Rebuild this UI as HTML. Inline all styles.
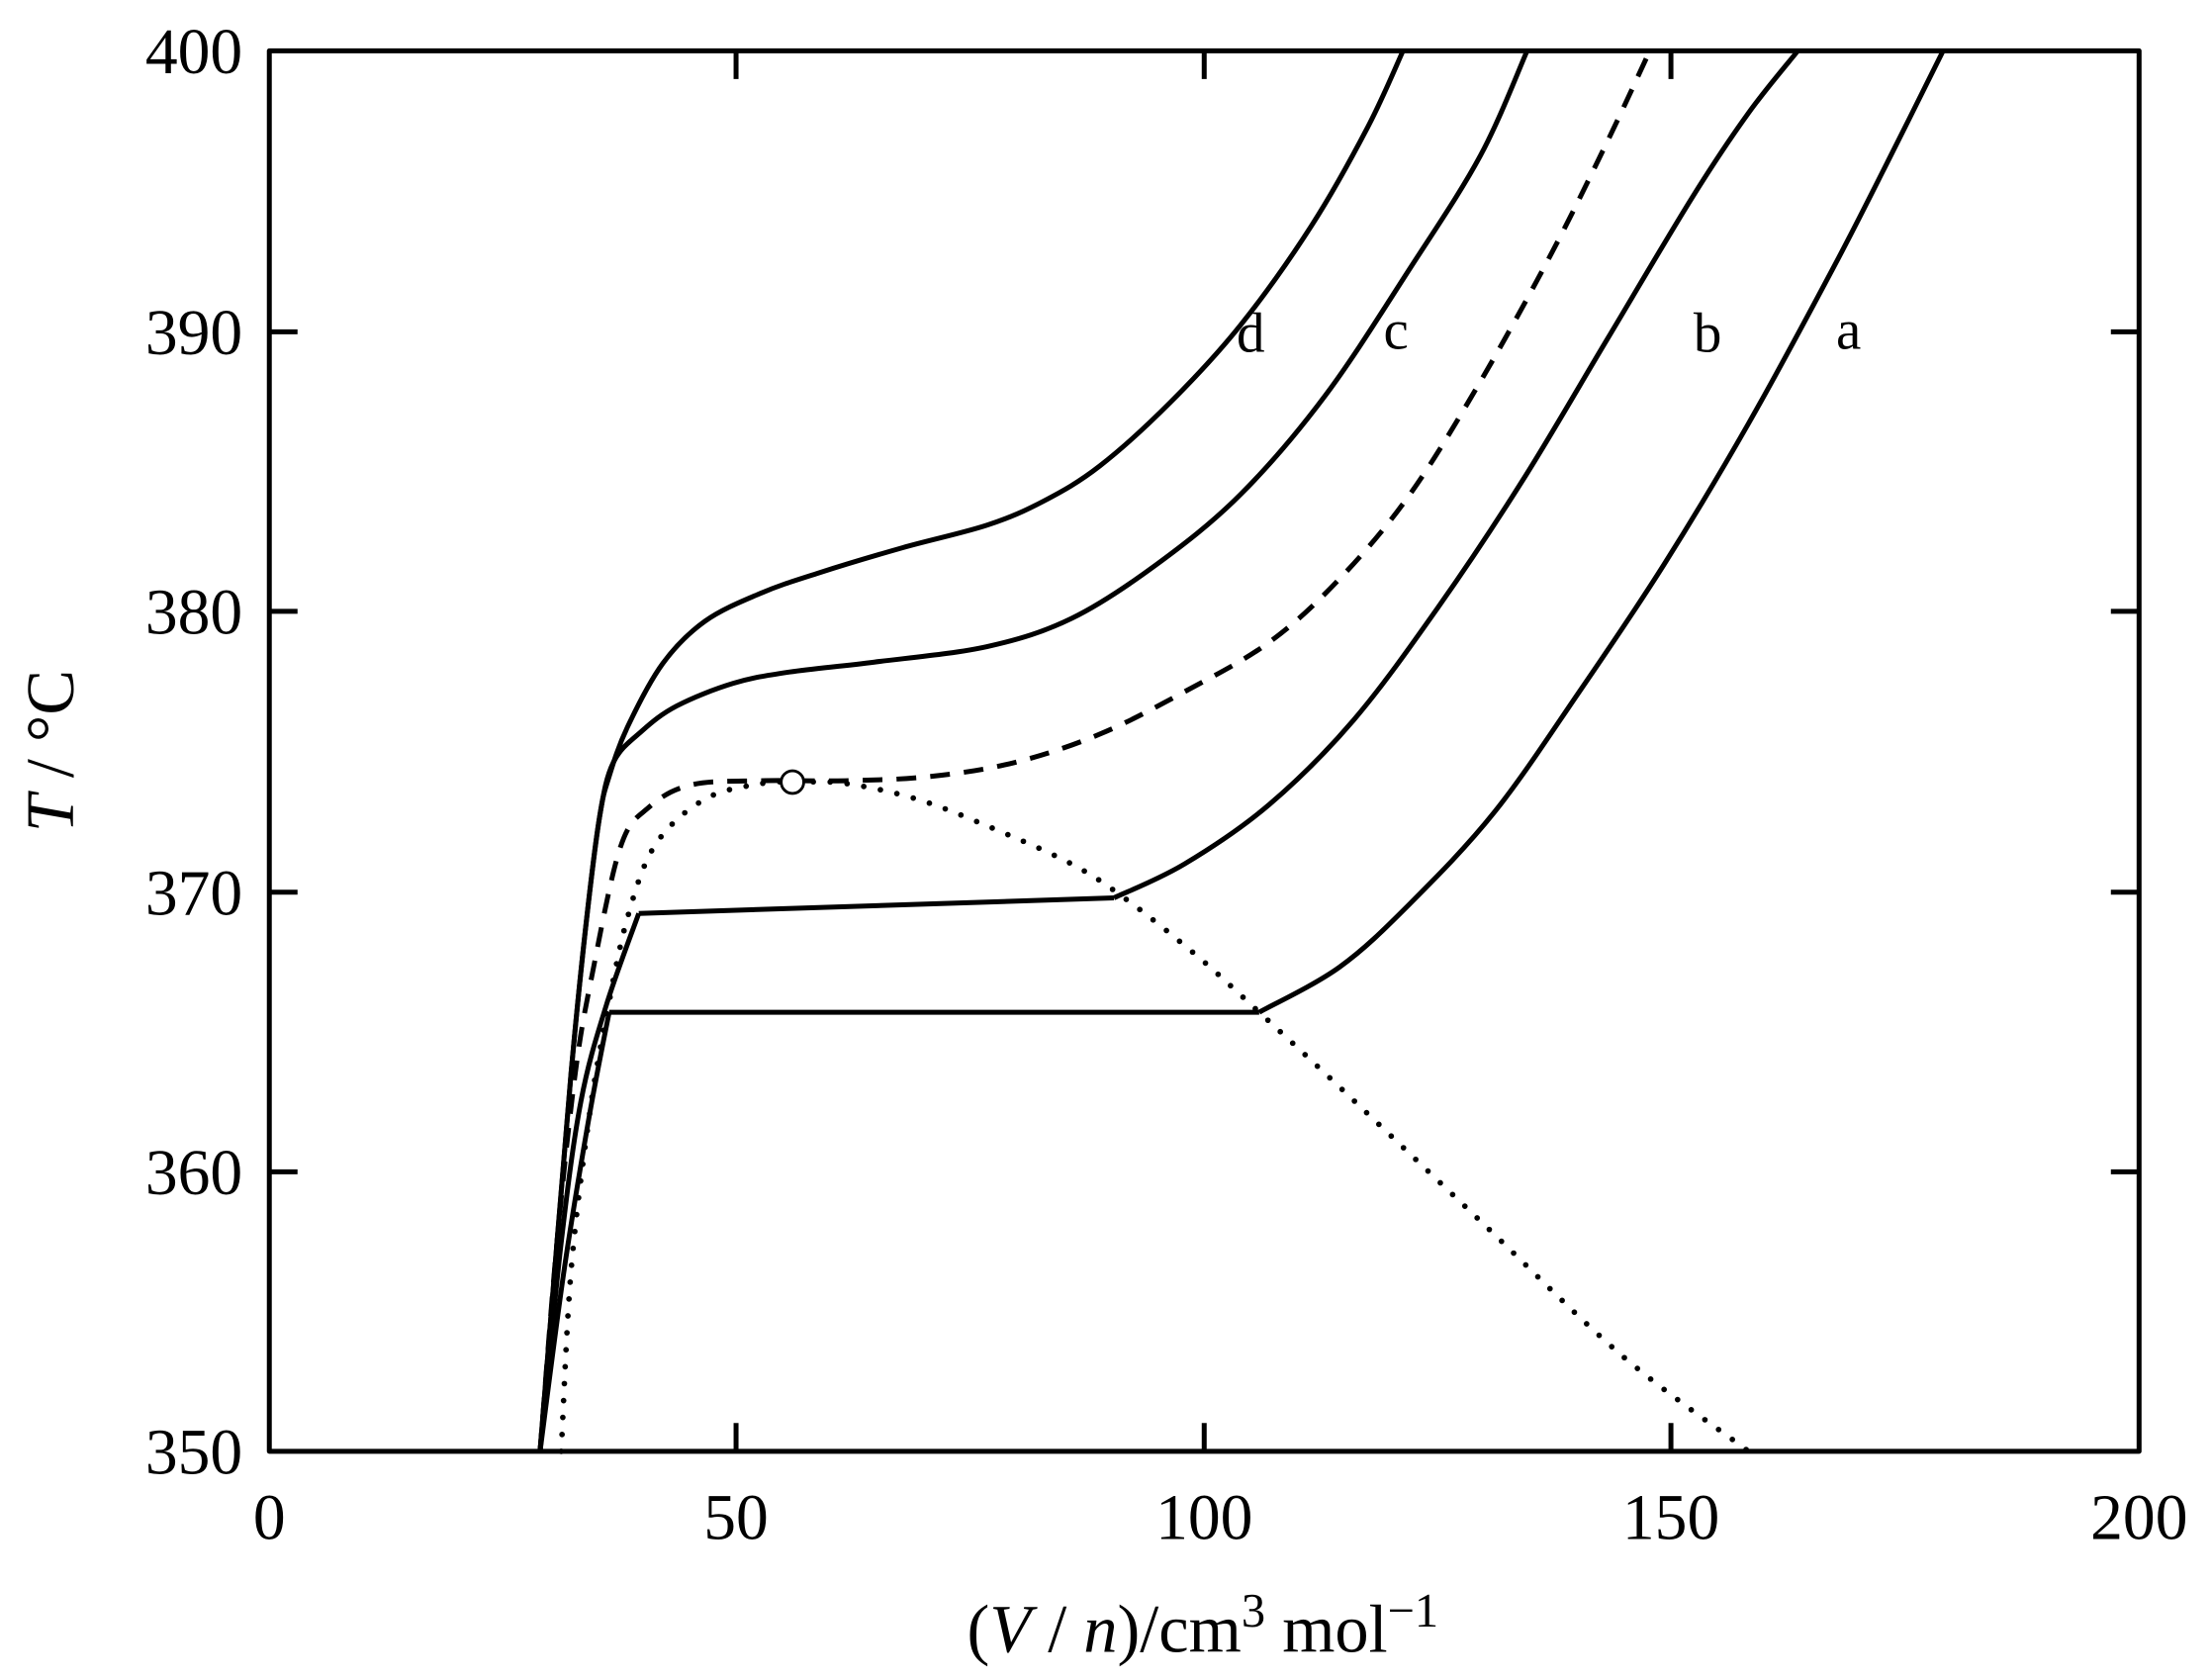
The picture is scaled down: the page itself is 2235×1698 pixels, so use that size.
<!DOCTYPE html>
<html><head><style>html,body{margin:0;padding:0;background:#fff}svg{display:block}</style></head>
<body>
<svg id="s" width="2235" height="1698" viewBox="0 0 1568 1190" preserveAspectRatio="none" xmlns="http://www.w3.org/2000/svg" font-family="Liberation Serif, serif">
<g fill="none" stroke="#000" stroke-width="3.5" stroke-linejoin="round" stroke-linecap="butt">
<rect x="191" y="36" width="1326" height="992"/>
<path d="M522,1028v-20M854,1028v-20M1185,1028v-20M522,36v20M854,36v20M1185,36v20M191,235h20M191,433h20M191,632h20M191,830h20M1517,235h-20M1517,433h-20M1517,632h-20M1517,830h-20"/>
<polyline class="sm" points="383,1028 400,900 418,790 432,717"/>
<polyline points="432,717 893,717"/>
<polyline class="sm" points="893,717 950,685 1000,640 1060,575 1120,490 1180,400 1240,300 1300,190 1340,112 1378,36"/>
<polyline class="sm" points="383,1028 398,880 412,780 430,712 453,647"/>
<polyline points="453,647 790,636"/>
<polyline class="sm" points="790,636 840,612 900,570 960,510 1020,430 1080,340 1140,240 1200,140 1240,80 1275,36"/>
<polyline class="sm" stroke-dasharray="14,10" points="383,1028 395,880 408,760 420,690 440,600 460,572 490,556 540,553 600,553 660,550 720,540 780,520 840,490 900,455 950,410 1000,350 1050,270 1100,180 1140,100 1170,36"/>
<polyline class="sm" points="383,1028 395,880 405,760 415,660 425,580 435,540 455,518 480,500 520,484 560,476 620,469 700,458 760,438 820,400 880,350 940,280 1000,190 1050,110 1083,36"/>
<polyline class="sm" points="383,1028 395,880 405,760 415,660 425,580 432,550 445,515 470,470 500,440 540,420 580,406 640,388 700,372 740,355 780,330 830,285 880,230 930,160 970,90 995,36"/>
<polyline class="sm" stroke-width="4" stroke-linecap="round" stroke-dasharray="0,12" points="398,1028 405,900 418,790 430,720 445,650 465,598 500,566 540,555 565,554 600,555 650,566 700,585 760,612 800,638 850,678 893,717 950,770 1050,865 1150,960 1240,1028"/>
</g>
<circle cx="562" cy="554" r="8" fill="#fff" stroke="#000" stroke-width="2"/>
<g font-size="46" text-anchor="middle">
<text x="191" y="1090">0</text><text x="522" y="1090">50</text><text x="854" y="1090">100</text><text x="1185" y="1090">150</text><text x="1517" y="1090">200</text>
</g>
<g font-size="46" text-anchor="end">
<text x="172" y="52">400</text><text x="172" y="251">390</text><text x="172" y="449">380</text><text x="172" y="648">370</text><text x="172" y="846">360</text><text x="172" y="1044">350</text>
</g>
<g font-size="40" text-anchor="middle">
<text x="887" y="249">d</text><text x="990" y="247">c</text><text x="1211" y="249">b</text><text x="1311" y="247">a</text>
</g>
<text x="853" y="1170" font-size="48" text-anchor="middle">(<tspan font-style="italic">V</tspan> / <tspan font-style="italic">n</tspan>)/cm<tspan dy="-18" font-size="34">3</tspan><tspan dy="18"> mol</tspan><tspan dy="-18" font-size="34">−1</tspan></text>
<text transform="translate(52,532) rotate(-90)" font-size="48" text-anchor="middle"><tspan font-style="italic">T</tspan> / °C</text>
</svg>
<script>
document.querySelectorAll('polyline.sm').forEach(function(pl){
 var p=pl.getAttribute('points').trim().split(/\s+/).map(function(s){return s.split(',').map(Number)});
 var d='M'+p[0][0]+','+p[0][1];
 for(var i=0;i<p.length-1;i++){
  var p0=p[i-1]||p[i],p1=p[i],p2=p[i+1],p3=p[i+2]||p2;
  var c1=[p1[0]+(p2[0]-p0[0])/6,p1[1]+(p2[1]-p0[1])/6],c2=[p2[0]-(p3[0]-p1[0])/6,p2[1]-(p3[1]-p1[1])/6];
  d+='C'+c1+' '+c2+' '+p2;
 }
 var path=document.createElementNS('http://www.w3.org/2000/svg','path');
 for(var a of pl.attributes){if(a.name!='points'&&a.name!='class')path.setAttribute(a.name,a.value);}
 path.setAttribute('d',d);
 pl.parentNode.replaceChild(path,pl);
});
</script>
</body></html>
